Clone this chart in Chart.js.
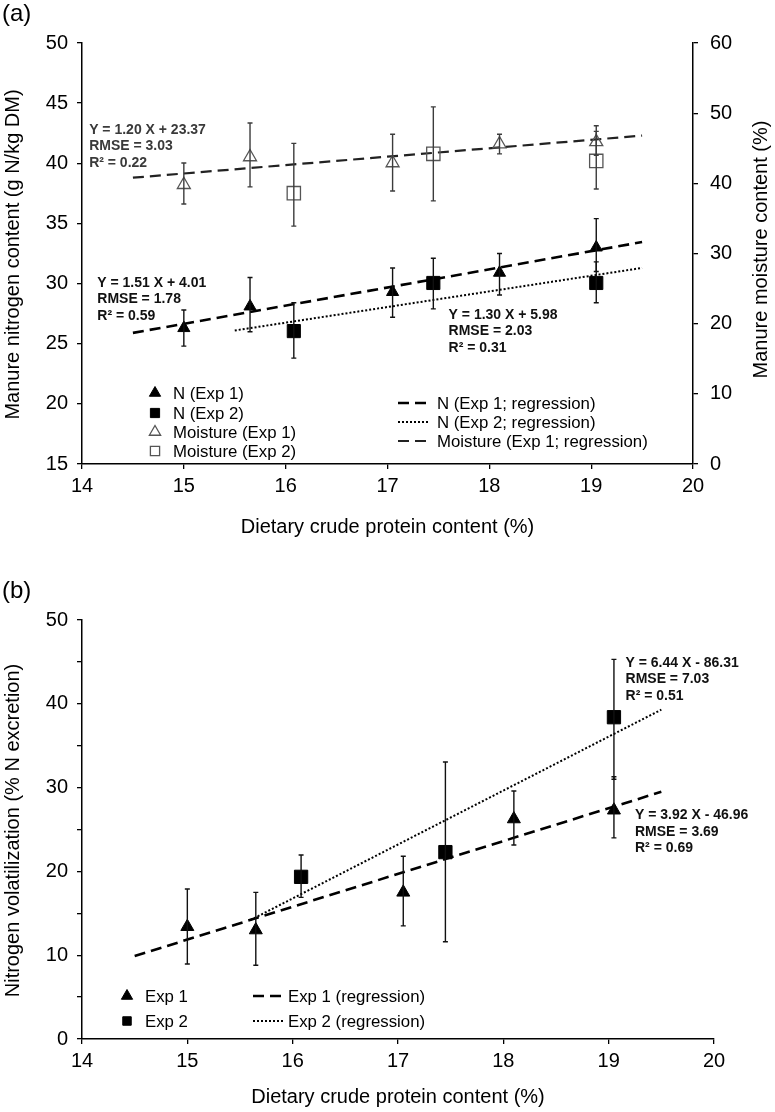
<!DOCTYPE html>
<html>
<head>
<meta charset="utf-8">
<title>Manure N, moisture and N volatilization vs dietary crude protein</title>
<style>
  html, body { margin: 0; padding: 0; background: #fff; }
  body { width: 775px; height: 1112px; position: relative; overflow: hidden; }
  canvas { position: absolute; left: 0; }
  #chartA { top: 0; width: 775px; height: 548px; }
  #chartB { top: 548px; width: 775px; height: 564px; }
</style>
<script src="https://cdn.jsdelivr.net/npm/chart.js@4.4.1/dist/chart.umd.min.js"></script>
</head>
<body>
<canvas id="chartA" width="775" height="548"></canvas>
<canvas id="chartB" width="775" height="564"></canvas>
<script>
// ---- data ----
// dietary crude protein (%) for each experiment
const cpExp1 = [15.0, 15.65, 17.05, 18.1, 19.05];
const cpExp2 = [16.08, 17.45, 19.05];

// (a) manure N content, g N/kg DM (left axis)
const nExp1 = [26.3, 28.1, 29.3, 30.9, 33.0];
const nExp1Low = [24.8, 26.0, 27.2, 29.05, 31.0];
const nExp1High = [27.8, 30.5, 31.3, 32.5, 35.4];
const nExp2 = [26.05, 30.05, 30.05];
const nExp2Low = [23.8, 27.9, 28.4];
const nExp2High = [28.4, 32.1, 31.8];

// (a) manure moisture content, % (right axis)
const moistExp1 = [39.8, 43.75, 42.9, 45.6, 45.9];
const moistExp1Low = [37.05, 39.5, 38.9, 44.2, 44.0];
const moistExp1High = [42.9, 48.6, 47.0, 47.0, 48.2];
const moistExp2 = [38.6, 44.2, 43.2];
const moistExp2Low = [33.9, 37.5, 39.2];
const moistExp2High = [45.7, 50.9, 47.4];

// (a) regression line end points
const nFit1X = [14.5, 19.5];
const nFit1Y = [25.9, 33.45];
const nFit2X = [15.5, 19.5];
const nFit2Y = [26.1, 31.3];
const moistFitX = [14.5, 19.5];
const moistFitY = [40.8, 46.8];

// (b) N volatilization, % of N excretion
const volExp1 = [13.4, 13.0, 17.5, 26.25, 27.3];
const volExp1Low = [8.95, 8.8, 13.5, 23.15, 24.0];
const volExp1High = [17.9, 17.5, 21.8, 29.6, 31.3];
const volExp2 = [19.35, 22.3, 38.4];
const volExp2Low = [16.9, 11.6, 31.0];
const volExp2High = [21.95, 33.05, 45.3];

// (b) regression line end points
const volFit1X = [14.5, 19.5];
const volFit1Y = [9.9, 29.5];
const volFit2X = [15.6, 19.5];
const volFit2Y = [14.2, 39.3];

// equation labels
const eqMoist = ['Y = 1.20 X + 23.37', 'RMSE = 3.03', 'R\u00b2 = 0.22'];
const eqN1 = ['Y = 1.51 X + 4.01', 'RMSE = 1.78', 'R\u00b2 = 0.59'];
const eqN2 = ['Y = 1.30 X + 5.98', 'RMSE = 2.03', 'R\u00b2 = 0.31'];
const eqVol2 = ['Y = 6.44 X - 86.31', 'RMSE = 7.03', 'R\u00b2 = 0.51'];
const eqVol1 = ['Y = 3.92 X - 46.96', 'RMSE = 3.69', 'R\u00b2 = 0.69'];

const FONT = "'Liberation Sans', Arial, Helvetica, sans-serif";
const TICK_FONT = { family: FONT, size: 20 };
const TITLE_FONT = { family: FONT, size: 20 };

const pts = (xs, ys) => xs.map((x, i) => ({ x: x, y: ys[i] }));

// --- error bars drawn from errLow/errHigh on each dataset ---
const errorBars = {
  id: 'errorBars',
  afterDatasetsDraw(chart) {
    const ctx = chart.ctx;
    const xs = chart.scales.x;
    chart.data.datasets.forEach(ds => {
      if (!ds.errLow) return;
      const ys = chart.scales[ds.yAxisID || 'y'];
      ctx.save();
      ctx.strokeStyle = ds.errColor || '#000';
      ctx.lineWidth = 1.4;
      ds.data.forEach((p, i) => {
        const x = xs.getPixelForValue(p.x);
        const lo = ys.getPixelForValue(ds.errLow[i]);
        const hi = ys.getPixelForValue(ds.errHigh[i]);
        ctx.beginPath();
        ctx.moveTo(x, lo); ctx.lineTo(x, hi);
        ctx.moveTo(x - 2.5, lo); ctx.lineTo(x + 2.5, lo);
        ctx.moveTo(x - 2.5, hi); ctx.lineTo(x + 2.5, hi);
        ctx.stroke();
      });
      ctx.restore();
    });
  }
};

function drawMarker(ctx, style, x, y, r, fill, stroke, lw) {
  ctx.beginPath();
  if (style === 'triangle') {
    let a = 0;
    ctx.moveTo(x + Math.sin(a) * r, y - Math.cos(a) * r);
    a += 2 * Math.PI / 3;
    ctx.lineTo(x + Math.sin(a) * r, y - Math.cos(a) * r);
    a += 2 * Math.PI / 3;
    ctx.lineTo(x + Math.sin(a) * r, y - Math.cos(a) * r);
    ctx.closePath();
  } else {
    const s = r * Math.SQRT1_2;
    ctx.rect(x - s, y - s, 2 * s, 2 * s);
  }
  ctx.lineWidth = lw;
  ctx.strokeStyle = stroke;
  if (fill && fill !== 'transparent') { ctx.fillStyle = fill; ctx.fill(); }
  ctx.stroke();
}

function rotatedTitle(ctx, text, x, y) {
  ctx.save();
  ctx.translate(x, y);
  ctx.rotate(-Math.PI / 2);
  ctx.textAlign = 'center';
  ctx.textBaseline = 'middle';
  ctx.font = TITLE_FONT.size + 'px ' + FONT;
  ctx.fillStyle = '#000';
  ctx.fillText(text, 0, 0);
  ctx.restore();
}

// --- panel label, equations, legend, vertical axis titles ---
const figureText = {
  id: 'figureText',
  afterDraw(chart, args, opts) {
    const ctx = chart.ctx;
    const ca = chart.chartArea;
    const xs = chart.scales.x, ys = chart.scales.y;
    const dsets = chart.data.datasets;
    ctx.save();
    ctx.textBaseline = 'middle';
    ctx.textAlign = 'left';

    ctx.fillStyle = '#000';
    ctx.font = '24px ' + FONT;
    ctx.fillText(opts.panel, 2, opts.panelY);

    ctx.font = 'bold 14px ' + FONT;
    opts.notes.forEach(n => {
      ctx.fillStyle = n.color;
      const x = xs.getPixelForValue(n.x);
      const y = ys.getPixelForValue(n.y);
      n.lines.forEach((t, i) => ctx.fillText(t, x, y + i * 16.5));
    });

    ctx.font = '16.8px ' + FONT;
    opts.legend.forEach(item => {
      const ds = dsets[item.ds];
      if (item.line) {
        ctx.save();
        ctx.strokeStyle = ds.borderColor;
        ctx.lineWidth = ds.borderWidth;
        ctx.setLineDash(ds.borderDash || []);
        ctx.beginPath();
        ctx.moveTo(item.x, item.y);
        ctx.lineTo(item.x + item.len, item.y);
        ctx.stroke();
        ctx.restore();
      } else {
        drawMarker(ctx, ds.pointStyle, item.x, item.y, item.r,
          ds.backgroundColor, ds.borderColor, ds.borderWidth);
      }
      ctx.fillStyle = '#000';
      ctx.fillText(ds.label, item.tx, item.y + 1);
    });

    const midY = (ca.top + ca.bottom) / 2;
    if (opts.leftTitle) rotatedTitle(ctx, opts.leftTitle, opts.leftTitleX, midY + 1);
    if (opts.rightTitle) rotatedTitle(ctx, opts.rightTitle, opts.rightTitleX, midY - 4);
    ctx.restore();
  }
};

function axis(extra) {
  return Object.assign({
    type: 'linear',
    border: { color: '#000', width: 1.5 },
    grid: { drawOnChartArea: false, color: '#000', lineWidth: 1.3, tickLength: 5 }
  }, extra);
}

function markerSet(label, xs, ys, lo, hi, style, r, filled, color, yAxis) {
  return {
    label: label,
    data: pts(xs, ys),
    yAxisID: yAxis,
    pointStyle: style,
    pointRadius: r,
    backgroundColor: filled ? color : 'transparent',
    borderColor: color,
    borderWidth: filled ? 1 : 1.3,
    errLow: lo,
    errHigh: hi,
    errColor: filled ? '#111' : '#3c3c3c'
  };
}

function lineSet(label, xs, ys, dash, width, color, yAxis) {
  return {
    label: label,
    data: pts(xs, ys),
    yAxisID: yAxis,
    showLine: true,
    pointRadius: 0,
    borderColor: color,
    borderWidth: width,
    borderDash: dash,
    fill: false
  };
}

const DASH = [11, 6];
const DOT = [2, 2];

// ---- panel (a) ----
new Chart(document.getElementById('chartA'), {
  type: 'scatter',
  data: {
    datasets: [
      markerSet('N (Exp 1)', cpExp1, nExp1, nExp1Low, nExp1High, 'triangle', 7, true, '#000', 'y'),
      markerSet('N (Exp 2)', cpExp2, nExp2, nExp2Low, nExp2High, 'rect', 9.3, true, '#000', 'y'),
      markerSet('Moisture (Exp 1)', cpExp1, moistExp1, moistExp1Low, moistExp1High, 'triangle', 7.5, false, '#555', 'y1'),
      markerSet('Moisture (Exp 2)', cpExp2, moistExp2, moistExp2Low, moistExp2High, 'rect', 9.4, false, '#555', 'y1'),
      lineSet('N (Exp 1; regression)', nFit1X, nFit1Y, DASH, 2.6, '#000', 'y'),
      lineSet('N (Exp 2; regression)', nFit2X, nFit2Y, DOT, 2, '#000', 'y'),
      lineSet('Moisture (Exp 1; regression)', moistFitX, moistFitY, DASH, 2.2, '#222', 'y1')
    ]
  },
  options: {
    responsive: false,
    animation: false,
    events: [],
    layout: { padding: { top: 43, left: 0, right: 0, bottom: 0 } },
    plugins: {
      legend: { display: false },
      tooltip: { enabled: false },
      figureText: {
        panel: '(a)', panelY: 14,
        notes: [
          { x: 14.07, y: 42.76, lines: eqMoist, color: '#3a3a3a' },
          { x: 14.15, y: 30.05, lines: eqN1, color: '#111' },
          { x: 17.6, y: 27.4, lines: eqN2, color: '#111' }
        ],
        legend: [
          { ds: 0, x: 155, y: 393, r: 6.5, tx: 173 },
          { ds: 1, x: 155, y: 413, r: 6.5, tx: 173 },
          { ds: 2, x: 155, y: 432, r: 6.5, tx: 173 },
          { ds: 3, x: 155, y: 451, r: 6.5, tx: 173 },
          { ds: 4, line: true, x: 398, len: 32, y: 403, tx: 437 },
          { ds: 5, line: true, x: 398, len: 32, y: 422, tx: 437 },
          { ds: 6, line: true, x: 398, len: 32, y: 441, tx: 437 }
        ],
        leftTitle: 'Manure nitrogen content (g N/kg DM)', leftTitleX: 13,
        rightTitle: 'Manure moisture content (%)', rightTitleX: 761
      }
    },
    scales: {
      x: axis({
        position: 'bottom', min: 14, max: 20,
        ticks: { stepSize: 1, color: '#000', font: TICK_FONT, padding: 5, autoSkip: false, maxRotation: 0 },
        title: { display: true, text: 'Dietary crude protein content (%)', color: '#000',
                 font: TITLE_FONT, padding: { top: 0, bottom: 9 } },
        afterFit(s) { s.height = 84; }
      }),
      y: axis({
        position: 'left', min: 15, max: 50,
        ticks: { stepSize: 5, color: '#000', font: TICK_FONT, padding: 9 },
        afterFit(s) { s.width = 82; }
      }),
      y1: axis({
        position: 'right', min: 0, max: 60,
        ticks: { stepSize: 10, color: '#000', font: TICK_FONT, padding: 12 },
        afterFit(s) { s.width = 82; }
      })
    }
  },
  plugins: [errorBars, figureText]
});

// ---- panel (b) ----
new Chart(document.getElementById('chartB'), {
  type: 'scatter',
  data: {
    datasets: [
      markerSet('Exp 1', cpExp1, volExp1, volExp1Low, volExp1High, 'triangle', 7.5, true, '#000', 'y'),
      markerSet('Exp 2', cpExp2, volExp2, volExp2Low, volExp2High, 'rect', 9.4, true, '#000', 'y'),
      lineSet('Exp 1 (regression)', volFit1X, volFit1Y, DASH, 2.6, '#000', 'y'),
      lineSet('Exp 2 (regression)', volFit2X, volFit2Y, DOT, 2, '#000', 'y')
    ]
  },
  options: {
    responsive: false,
    animation: false,
    events: [],
    layout: { padding: { top: 72, left: 0, right: 61, bottom: 0 } },
    plugins: {
      legend: { display: false },
      tooltip: { enabled: false },
      figureText: {
        panel: '(b)', panelY: 43,
        notes: [
          { x: 19.16, y: 44.9, lines: eqVol2, color: '#111' },
          { x: 19.25, y: 26.7, lines: eqVol1, color: '#111' }
        ],
        legend: [
          { ds: 0, x: 127, y: 448, r: 6.5, tx: 145 },
          { ds: 1, x: 127, y: 473, r: 6, tx: 145 },
          { ds: 2, line: true, x: 253, len: 32, y: 448, tx: 288 },
          { ds: 3, line: true, x: 253, len: 32, y: 473, tx: 288 }
        ],
        leftTitle: 'Nitrogen volatilization (% N excretion)', leftTitleX: 13
      }
    },
    scales: {
      x: axis({
        position: 'bottom', min: 14, max: 20,
        ticks: { stepSize: 1, color: '#000', font: TICK_FONT, padding: 5, autoSkip: false, maxRotation: 0 },
        title: { display: true, text: 'Dietary crude protein content (%)', color: '#000',
                 font: TITLE_FONT, padding: { top: 0, bottom: 3 } },
        afterFit(s) { s.height = 73; }
      }),
      y: axis({
        position: 'left', min: 0, max: 50,
        ticks: { stepSize: 5, color: '#000', font: TICK_FONT, padding: 9,
                 callback: v => (v % 10 === 0 ? v : '') },
        afterFit(s) { s.width = 82; }
      })
    }
  },
  plugins: [errorBars, figureText]
});
</script>
</body>
</html>
